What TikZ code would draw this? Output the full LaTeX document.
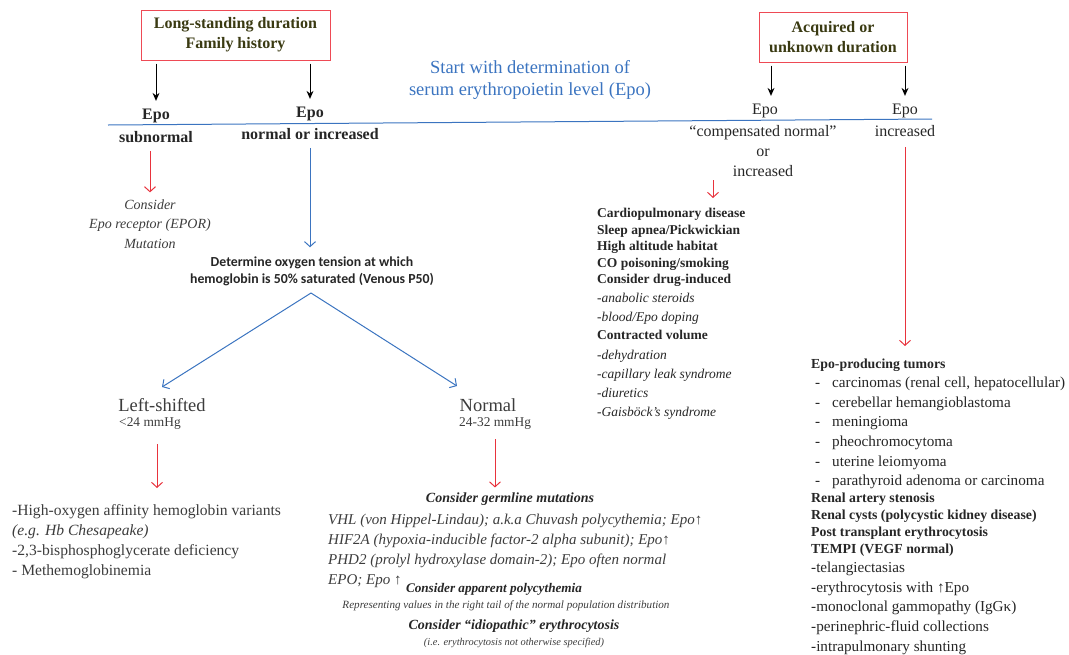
\documentclass[tikz,border=0pt]{standalone}
\usepackage{fontspec}
\setmainfont{Liberation Serif}
\newfontfamily\calibrifont{Carlito}
\usepackage{xcolor}
\usepackage{tikz}
\usetikzlibrary{arrows.meta,positioning}
\definecolor{boxred}{HTML}{EE4A55}
\definecolor{headgreen}{HTML}{3A3A12}
\definecolor{startblue}{HTML}{3B74C0}
\definecolor{arrowred}{HTML}{E8333D}
\definecolor{textgray}{HTML}{3C3C3C}
\tikzset{hbox/.style={draw=boxred,line width=1pt,text=headgreen,font=\bfseries\fontsize{16}{20}\selectfont,align=center,minimum height=50pt,inner sep=0pt}}
\tikzset{lbl/.style={text=black!85,font=\fontsize{16}{20}\selectfont,inner sep=0pt}}
\tikzset{blbl/.style={text=black!85,font=\bfseries\fontsize{16}{20}\selectfont,inner sep=0pt}}
\tikzset{blk/.style={-{Stealth[length=8pt,width=7pt]},line width=1pt}}
\tikzset{redarr/.style={-{Straight Barb[length=5pt,width=11pt]},draw=arrowred,line width=1pt}}
\tikzset{bluearr/.style={-{Straight Barb[length=5pt,width=11pt]},draw=startblue,line width=1pt}}
\tikzset{list/.style={align=left,anchor=north west,inner sep=0pt,text=textgray}}
\tikzset{note/.style={align=center,inner sep=0pt,text=textgray}}

\begin{document}
\begin{tikzpicture}[x=1pt,y=-1pt]
    \useasboundingbox (0,0) rectangle (1069,654);

    % headers
    \node[hbox,minimum width=189pt] (long) at (235.5,35) {Long-standing duration\\Family history};
    \node[hbox,minimum width=148pt] (acq) at (833,37) {Acquired or\\unknown duration};
    \node[text=startblue,align=center,inner sep=0pt,font=\fontsize{18.5}{22}\selectfont] (start) at (530,80) {Start with determination of\\serum erythropoietin level (Epo)};

    % Epo levels
    \node[blbl] (epoS) at (156,116) {Epo};
    \node[blbl] (sub) at (156,137) {subnormal};
    \node[blbl] (epoN) at (310,114) {Epo};
    \node[blbl] (noi) at (310,134) {normal or increased};
    \node[lbl] (epoC) at (765,111) {Epo};
    \node[lbl,align=center] (comp) at (763,151) {``compensated normal''\\or\\increased};
    \node[lbl] (epoI) at (905,111) {Epo};
    \node[lbl] (incr) at (905,131) {increased};

    \coordinate (divL) at (108,125);
    \coordinate (divR) at (932,119);
    \draw[startblue,line width=1pt] (divL) -- (divR);

    \draw[blk,shorten <=3pt,shorten >=8pt] (long.south -| epoS) -- (epoS);
    \draw[blk,shorten <=3pt,shorten >=8pt] (long.south -| epoN) -- (epoN);
    \draw[blk,shorten <=3pt,shorten >=8pt] (acq.south -| 771,0) -- (771,0 |- epoC.north);
    \draw[blk,shorten <=3pt,shorten >=8pt] (acq.south -| epoI) -- (epoI);

    % subnormal branch
    \node[note,font=\itshape\fontsize{14}{19.5}\selectfont] (epor) at (150,224) {Consider\\Epo receptor (EPOR)\\Mutation};
    \draw[redarr] (sub.south -| epor) ++(0,8) -- ([yshift=7pt]epor.north);

    % P50 branch
    \node[note,text=black!85,font=\calibrifont\bfseries\fontsize{13.8}{17}\selectfont] (p50) at (312,271) {Determine oxygen tension at which\\hemoglobin is 50\% saturated (Venous P50)};
    \draw[bluearr] ([yshift=-8pt]noi.south) -- ([yshift=9pt]p50.north -| noi);

    \node[inner sep=0pt,text=textgray,font=\fontsize{18.5}{20}\selectfont] (left) at (162,405) {Left-shifted};
    \node[inner sep=0pt,text=textgray,font=\fontsize{13.4}{14}\selectfont,anchor=west] (lmm) at (119,424) {<24 mmHg};
    \node[inner sep=0pt,text=textgray,font=\fontsize{18.5}{20}\selectfont] (norm) at (488,405) {Normal};
    \node[inner sep=0pt,text=textgray,font=\fontsize{13.4}{14}\selectfont,anchor=west] (nmm) at (459,424) {24-32 mmHg};

    \coordinate (apex) at (311,293);
    \coordinate (ltip) at (162,387);
    \coordinate (rtip) at (457,386);
    \draw[bluearr] (apex) -- (ltip);
    \draw[bluearr] (apex) -- (rtip);

    % left-shifted list
    \node[list,font=\fontsize{15.6}{20}\selectfont] (lefts) at (12,504) {-High-oxygen affinity hemoglobin variants\\
        \textit{(e.g. Hb Chesapeake)}\\
        -2,3-bisphosphoglycerate deficiency\\
        - Methemoglobinemia};
    \draw[redarr] ([yshift=-14pt]lmm.south -| 157,0) -- ([yshift=16pt]lefts.north -| 157,0);

    % normal list
    \node[note,font=\bfseries\itshape\fontsize{14}{17}\selectfont,text=black!85] (germ) at (510,499) {Consider germline mutations};
    \node[list,font=\itshape\fontsize{15}{20}\selectfont] (genes) at (328,514) {VHL (von Hippel-Lindau); a.k.a Chuvash polycythemia; Epo↑\\
        HIF2A (hypoxia-inducible factor-2 alpha subunit); Epo↑\\
        PHD2 (prolyl hydroxylase domain-2); Epo often normal\\
        EPO; Epo ↑};
    \draw[redarr] ([yshift=-9pt]nmm.south -| 495,0) -- ([yshift=5pt]germ.north -| 495,0);
    \node[note,font=\bfseries\itshape\fontsize{13.2}{17}\selectfont,text=black!85] (appar) at (494,589) {Consider apparent polycythemia};
    \node[note,font=\itshape\fontsize{11.1}{13}\selectfont] (repr) at (506,606) {Representing values in the right tail of the normal population distribution};
    \node[note,font=\bfseries\itshape\fontsize{14}{17}\selectfont,text=black!85] (idio) at (514,626) {Consider ``idiopathic'' erythrocytosis};
    \node[note,font=\itshape\fontsize{10.4}{13}\selectfont] (nos) at (514,643) {(i.e. erythrocytosis not otherwise specified)};

    % compensated list
    \node[list,font=\fontsize{13.5}{16.6}\selectfont,text=black!85] (causes) at (597,208) {\textbf{Cardiopulmonary disease}\\
        \textbf{Sleep apnea/Pickwickian}\\
        \textbf{High altitude habitat}\\
        \textbf{CO poisoning/smoking}\\
        \textbf{Consider drug-induced}\\[1.5pt]
        \textit{-anabolic steroids}\\[3pt]
        \textit{-blood/Epo doping}\\[1.5pt]
        \textbf{Contracted volume}\\[3pt]
        \textit{-dehydration}\\[2.5pt]
        \textit{-capillary leak syndrome}\\[2.5pt]
        \textit{-diuretics}\\[2.5pt]
        \textit{-Gaisböck's syndrome}};
    \draw[redarr] (713,180) -- ([yshift=10pt]causes.north -| 713,0);

    % increased list
    \node[list,font=\fontsize{15.2}{17}\selectfont,text=black!85] (tumors) at (811,359) {\textbf{\fontsize{13.8}{17}\selectfont Epo-producing tumors}\\[2pt]
        \hspace*{4pt}\makebox[17pt][l]{-}carcinomas (renal cell, hepatocellular)\\[2.6pt]
        \hspace*{4pt}\makebox[17pt][l]{-}cerebellar hemangioblastoma\\[2.6pt]
        \hspace*{4pt}\makebox[17pt][l]{-}meningioma\\[2.6pt]
        \hspace*{4pt}\makebox[17pt][l]{-}pheochromocytoma\\[2.6pt]
        \hspace*{4pt}\makebox[17pt][l]{-}uterine leiomyoma\\[2.6pt]
        \hspace*{4pt}\makebox[17pt][l]{-}parathyroid adenoma or carcinoma\\
        \textbf{\fontsize{13.8}{17}\selectfont Renal artery stenosis}\\
        \textbf{\fontsize{13.8}{17}\selectfont Renal cysts (polycystic kidney disease)}\\
        \textbf{\fontsize{13.8}{17}\selectfont Post transplant erythrocytosis}\\
        \textbf{\fontsize{13.8}{17}\selectfont TEMPI (VEGF normal)}\\[2pt]
        -telangiectasias\\[2.6pt]
        -erythrocytosis with ↑Epo\\[2.6pt]
        -monoclonal gammopathy (IgGκ)\\[2.6pt]
        -perinephric-fluid collections\\[2.6pt]
        -intrapulmonary shunting};
    \draw[redarr] ([yshift=-10pt]incr.south) -- ([yshift=13pt]tumors.north -| incr);
\end{tikzpicture}
\end{document}
